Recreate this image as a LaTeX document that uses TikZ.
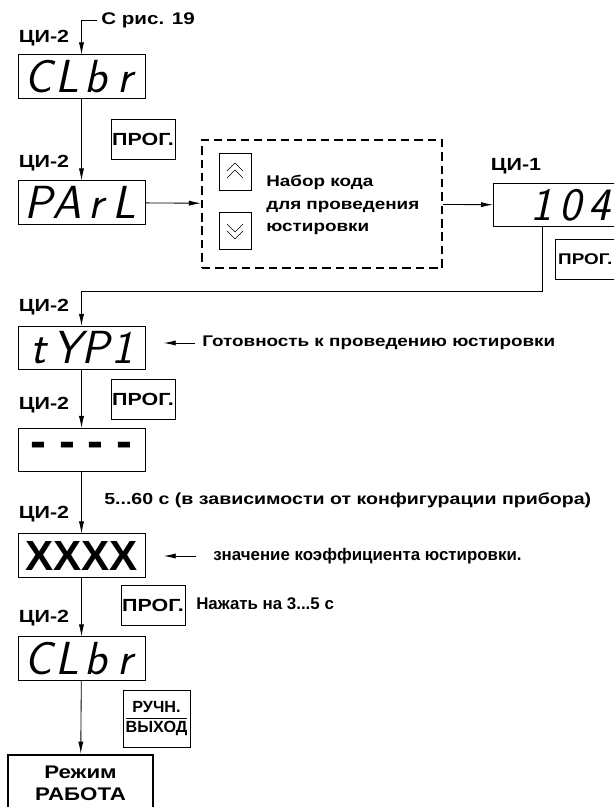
\documentclass[tikz,border=0pt]{standalone}
\usepackage{fontspec}
\setmainfont{Liberation Sans}
\newfontfamily\widefont{Liberation Sans}[FakeStretch=1.22]
\usetikzlibrary{arrows.meta}
\newcommand{\dig}[1]{\makebox[0.72cm][c]{#1}}

\begin{document}
\begin{tikzpicture}[x=0.025cm, y=-0.025cm,
        disp/.style={draw, line width=0.6pt, minimum width=3.175cm, minimum height=1.08cm, inner sep=0pt, font=\fontsize{33}{33}\selectfont\sffamily\itshape},
        key/.style={draw, line width=0.6pt, minimum width=1.6cm, minimum height=1.0cm, inner sep=0pt, font=\fontsize{12.5}{13}\selectfont\widefont\bfseries},
        lbl/.style={inner sep=0pt, font=\fontsize{12.5}{13}\selectfont\widefont\bfseries},
        note/.style={anchor=west, inner sep=0pt, font=\fontsize{12}{13}\selectfont\widefont\bfseries},
        btn/.style={draw, line width=0.5pt, minimum width=0.8cm, minimum height=0.925cm, inner sep=0pt},
        arrow/.style={-{Latex[length=3mm,width=1.3mm]}, line width=0.6pt}
    ]
        \useasboundingbox (0,0) rectangle (614,807);
        \clip (0,0) rectangle (614,807);

        % first display
        \node[lbl] (l1) at (44,38) {ЦИ-2};
        \node[note] (src) at (101,20) {С рис. 19};
        \node[disp] (d1) at (81.5,76.5) {\dig{C}\dig{L}\dig{b}\dig{r}};
        \node[key] (k1) at (143,139.5) {ПРОГ.};

        \node[lbl] (l2) at (44,163) {ЦИ-2};
        \node[disp] (d2) at (81.5,202.5) {\dig{P}\dig{A}\dig{r}\dig{L}};

        % code entry
        \node[draw, dashed, line width=1.4pt, dash pattern=on 6pt off 3.5pt, minimum width=6cm, minimum height=3.2cm] (code) at (322,204) {};
        \node[btn] (up) at (235,171.5) {};
        \node[btn] (dn) at (235,230.5) {};
        \foreach \d in {-0.5,6.5}
            \draw[line width=0.4pt] (up.center) ++(-8,\d) -- ++(8,-8) -- ++(8,8);
        \foreach \d in {0.5,-6.5}
            \draw[line width=0.4pt] (dn.center) ++(-8,\d) -- ++(8,8) -- ++(8,-8);
        \node[note, align=left, font=\fontsize{11}{16}\selectfont\widefont\bfseries] (txt) at (266,205) {Набор кода\\для проведения\\юстировки};

        \node[lbl] (l7) at (516,166) {ЦИ-1};
        \node[disp, anchor=west] (d3) at (493,205) {\hspace*{0.85cm}\dig{1}\dig{0}\dig{4}\hspace*{0.65cm}};
        \node[key, anchor=west, font=\fontsize{11}{12}\selectfont\widefont\bfseries] (k2) at (555,259) {\hspace*{2pt}ПРОГ.\hspace*{6pt}};
        \coordinate (turn) at (542,291);

        % calibration
        \node[lbl] (l3) at (44,307) {ЦИ-2};
        \node[disp] (d4) at (81.5,348) {\dig{t}\dig{Y}\dig{P}\makebox[0.72cm][r]{1\hspace{4pt}}};
        \node[note, font=\fontsize{11}{13}\selectfont\widefont\bfseries] (rdy) at (202,343) {Готовность к проведению юстировки};
        \node[key] (k3) at (143,399) {ПРОГ.};

        \node[lbl] (l4) at (44,405) {ЦИ-2};
        \node[disp, font=\fontsize{34}{34}\selectfont\bfseries] (d5) at (81.5,450) {\raisebox{-4pt}{\dig{-}\dig{-}\dig{-}\dig{-}}};

        \node[lbl] (l5) at (44,514) {ЦИ-2};
        \node[note, font=\fontsize{11.4}{13}\selectfont\widefont\bfseries] (time) at (104,500) {5...60 с (в зависимости от конфигурации прибора)};
        \node[disp, font=\fontsize{30}{30}\selectfont\bfseries] (d6) at (81.5,555.5) {XXXX};
        \node[note, font=\fontsize{12}{13}\selectfont\bfseries] (coef) at (213,556) {значение коэффициента юстировки.};
        \node[key] (k4) at (153,605) {ПРОГ.};
        \node[note, font=\fontsize{12}{13}\selectfont\bfseries] (hold) at (196,604) {Нажать на 3...5 с};

        \node[lbl] (l6) at (44,618) {ЦИ-2};
        \node[disp] (d7) at (81.5,658.5) {\dig{C}\dig{L}\dig{b}\dig{r}};
        \node[key, minimum width=1.675cm, minimum height=1.425cm, font=\fontsize{11.5}{12}\selectfont\bfseries] (k5) at (156.5,718.5) {\setlength{\tabcolsep}{0pt}\renewcommand{\arraystretch}{1.15}\begin{tabular}{c}РУЧН.\\\hline ВЫХОД\end{tabular}};
        \node[draw, line width=2pt, minimum width=3.625cm, minimum height=1.425cm, align=center, font=\fontsize{13}{16}\selectfont\widefont\bfseries] (mode) at (80.5,783.5) {Режим\\РАБОТА};

        \draw[arrow, shorten <=3pt] (src.west) -| (d1);
        \draw[arrow] (d1) -- (d2);
        \draw[arrow] (d2) -- (code);
        \draw[arrow] (code) -- (d3);
        \draw[arrow] (d3.south -| turn) -- (turn) -| (d4);
        \draw[arrow, shorten <=5pt, shorten >=13pt] (rdy.west) -- (d4.east |- rdy.west);
        \draw[arrow] (d4) -- (d5);
        \draw[arrow] (d5) -- (d6);
        \draw[arrow, shorten <=12pt, shorten >=13pt] (coef.west) -- (d6.east |- coef.west);
        \draw[arrow] (d6) -- (d7);
        \draw[arrow] (d7) -- (mode);
    \end{tikzpicture}
\end{document}
